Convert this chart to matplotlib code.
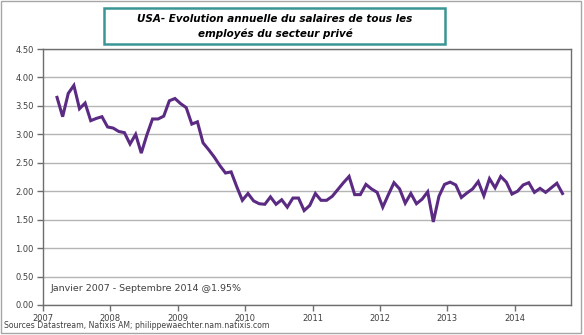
import matplotlib
matplotlib.use('Agg')
import matplotlib.pyplot as plt
import pandas as pd
from matplotlib.patches import Rectangle


# monthly observations, March 2007 - September 2014
months = pd.date_range('2007-03-01', '2014-09-01', freq='MS')
wages = [
	3.65, 3.31, 3.72, 3.86, 3.45, 3.55, 3.24, 3.28, 3.31, 3.13,
	3.11, 3.05, 3.03, 2.83, 3.00, 2.67, 2.99, 3.27, 3.27, 3.32,
	3.59, 3.63, 3.54, 3.47, 3.18, 3.22, 2.85, 2.73, 2.60, 2.45,
	2.32, 2.34, 2.08, 1.84, 1.96, 1.83, 1.78, 1.77, 1.90, 1.77,
	1.85, 1.72, 1.88, 1.88, 1.66, 1.75, 1.96, 1.84, 1.84, 1.91,
	2.03, 2.15, 2.26, 1.94, 1.94, 2.12, 2.04, 1.98, 1.72, 1.94,
	2.15, 2.04, 1.79, 1.96, 1.78, 1.86, 1.99, 1.46, 1.91, 2.12,
	2.16, 2.11, 1.89, 1.97, 2.04, 2.17, 1.92, 2.22, 2.06, 2.26,
	2.16, 1.95, 2.00, 2.11, 2.15, 1.98, 2.05, 1.98, 2.06, 2.14,
	1.96,
]
year_ticks = [2007, 2008, 2009, 2010, 2011, 2012, 2013, 2014]
y_ticks = [0.0, 0.5, 1.0, 1.5, 2.0, 2.5, 3.0, 3.5, 4.0, 4.5]

title = 'USA- Evolution annuelle du salaires de tous les\nemployés du secteur privé'
note = 'Janvier 2007 - Septembre 2014 @1.95%'
source = 'Sources Datastream, Natixis AM; philippewaechter.nam.natixis.com'

LINE = '#5B2A83'
TEXT = '#404040'

# place each month in the middle of its slot on a year axis
x = months.year + (months.month - 1 + 0.5) / 12.0

fig = plt.figure(figsize=(5.84, 3.35), dpi=100)
fig.patch.set_facecolor('white')
fig.patches.append(Rectangle((0.002, 0.006), 0.993, 0.99, transform=fig.transFigure,
	fill=False, edgecolor='#A6A6A6', linewidth=1.0))

ax = fig.add_axes([0.0736, 0.0896, 0.9036, 0.7641])
ax.plot(x, wages, color=LINE, linewidth=2.2, solid_joinstyle='miter', zorder=3)

ax.set_xlim(2007, 2014.83)
ax.set_ylim(0, 4.5)
ax.set_xticks(year_ticks)
ax.set_xticklabels([str(y) for y in year_ticks])
ax.set_yticks(y_ticks)
ax.set_yticklabels(['%.2f' % v for v in y_ticks])
ax.grid(axis='y', color='#B4B4B4', linewidth=1.0)
ax.set_axisbelow(True)
for s in ax.spines.values():
	s.set_color('#6E6E6E')
	s.set_linewidth(1.0)
ax.tick_params(axis='both', direction='out', length=4, width=1.0, color='#6E6E6E',
	labelsize=6.0, labelcolor=TEXT, pad=2.5)

ax.text(0.014, 0.065, note, transform=ax.transAxes, fontsize=6.8, color=TEXT,
	ha='left', va='center')
fig.text(0.006, 0.027, source, fontsize=5.6, color=TEXT, ha='left', va='center')

# framed title
fig.patches.append(Rectangle((104 / 584, 1 - 44 / 335), 341 / 584, 36 / 335,
	transform=fig.transFigure, facecolor='white', edgecolor='#3A9595', linewidth=1.8, zorder=5))
fig.text(275 / 584, 1 - 26.5 / 335, title, fontsize=7.5, fontweight='bold', style='italic',
	color='black', ha='center', va='center', linespacing=1.45, zorder=6)

fig.savefig('out.png', dpi=100)
